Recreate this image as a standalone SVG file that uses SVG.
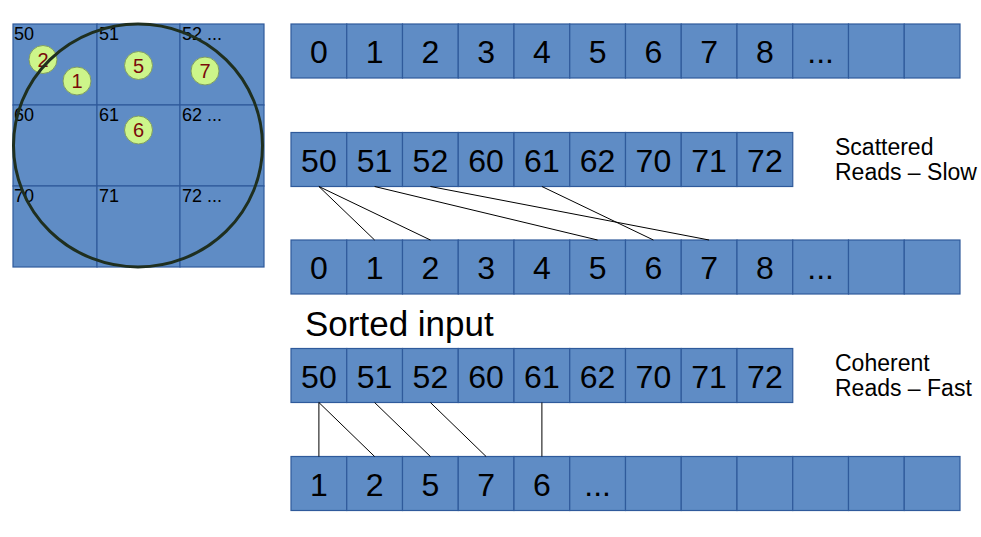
<svg xmlns="http://www.w3.org/2000/svg" width="981" height="537" viewBox="0 0 981 537">
<style>
.cell{fill:#5f8cc5;stroke:#2f5a9b;stroke-width:1.2}
.num{font-family:"Liberation Sans",Arial,sans-serif;font-size:32px;fill:#000;text-anchor:middle}
.glbl{font-family:"Liberation Sans",Arial,sans-serif;font-size:18px;fill:#000}
.dot{fill:#cdf58a;stroke:#7f9c62;stroke-width:1}
.dnum{font-family:"Liberation Sans",Arial,sans-serif;font-size:20px;fill:#7a0a0a;text-anchor:middle}
.lbl{font-family:"Liberation Sans",Arial,sans-serif;font-size:23px;fill:#000}
.conn{stroke:#000;stroke-width:1;fill:none}
</style>
<rect width="981" height="537" fill="#fff"/>

<g id="grid">
<rect class="cell" x="13" y="24" width="84" height="81"/>
<rect class="cell" x="97" y="24" width="83" height="81"/>
<rect class="cell" x="180" y="24" width="84" height="81"/>
<rect class="cell" x="13" y="105" width="84" height="81"/>
<rect class="cell" x="97" y="105" width="83" height="81"/>
<rect class="cell" x="180" y="105" width="84" height="81"/>
<rect class="cell" x="13" y="186" width="84" height="81"/>
<rect class="cell" x="97" y="186" width="83" height="81"/>
<rect class="cell" x="180" y="186" width="84" height="81"/>
<text class="glbl" x="14" y="40">50</text>
<text class="glbl" x="99" y="40">51</text>
<text class="glbl" x="182" y="40">52 ...</text>
<text class="glbl" x="14" y="121">60</text>
<text class="glbl" x="99" y="121">61</text>
<text class="glbl" x="182" y="121">62 ...</text>
<text class="glbl" x="14" y="202">70</text>
<text class="glbl" x="99" y="202">71</text>
<text class="glbl" x="182" y="202">72 ...</text>
</g>

<g id="samples">
<circle class="dot" cx="43" cy="59.5" r="14"/>
<text class="dnum" x="43" y="66.5">2</text>
<circle class="dot" cx="77" cy="81" r="14"/>
<text class="dnum" x="77" y="88">1</text>
<circle class="dot" cx="138.5" cy="65.5" r="14"/>
<text class="dnum" x="138.5" y="72.5">5</text>
<circle class="dot" cx="205" cy="71" r="14"/>
<text class="dnum" x="205" y="78">7</text>
<circle class="dot" cx="138.5" cy="130" r="14"/>
<text class="dnum" x="138.5" y="137">6</text>
</g>

<g id="footprint">
<ellipse cx="138" cy="145.5" rx="124.5" ry="121.5" fill="none" stroke="#1f2f1f" stroke-width="3"/>
</g>

<g id="row-memory-top">
<rect class="cell" x="291" y="24" width="55.75" height="54"/>
<rect class="cell" x="346.75" y="24" width="55.75" height="54"/>
<rect class="cell" x="402.5" y="24" width="55.75" height="54"/>
<rect class="cell" x="458.25" y="24" width="55.75" height="54"/>
<rect class="cell" x="514" y="24" width="55.75" height="54"/>
<rect class="cell" x="569.75" y="24" width="55.75" height="54"/>
<rect class="cell" x="625.5" y="24" width="55.75" height="54"/>
<rect class="cell" x="681.25" y="24" width="55.75" height="54"/>
<rect class="cell" x="737" y="24" width="55.75" height="54"/>
<rect class="cell" x="792.75" y="24" width="55.75" height="54"/>
<rect class="cell" x="848.5" y="24" width="55.75" height="54"/>
<rect class="cell" x="904.25" y="24" width="55.75" height="54"/>
<text class="num" x="318.9" y="63">0</text>
<text class="num" x="374.6" y="63">1</text>
<text class="num" x="430.4" y="63">2</text>
<text class="num" x="486.1" y="63">3</text>
<text class="num" x="541.9" y="63">4</text>
<text class="num" x="597.6" y="63">5</text>
<text class="num" x="653.4" y="63">6</text>
<text class="num" x="709.1" y="63">7</text>
<text class="num" x="764.9" y="63">8</text>
<text class="num" x="820.6" y="63">...</text>
</g>

<g id="row-scattered">
<rect class="cell" x="291" y="132.5" width="55.75" height="54"/>
<rect class="cell" x="346.75" y="132.5" width="55.75" height="54"/>
<rect class="cell" x="402.5" y="132.5" width="55.75" height="54"/>
<rect class="cell" x="458.25" y="132.5" width="55.75" height="54"/>
<rect class="cell" x="514" y="132.5" width="55.75" height="54"/>
<rect class="cell" x="569.75" y="132.5" width="55.75" height="54"/>
<rect class="cell" x="625.5" y="132.5" width="55.75" height="54"/>
<rect class="cell" x="681.25" y="132.5" width="55.75" height="54"/>
<rect class="cell" x="737" y="132.5" width="55.75" height="54"/>
<text class="num" x="318.9" y="171.5">50</text>
<text class="num" x="374.6" y="171.5">51</text>
<text class="num" x="430.4" y="171.5">52</text>
<text class="num" x="486.1" y="171.5">60</text>
<text class="num" x="541.9" y="171.5">61</text>
<text class="num" x="597.6" y="171.5">62</text>
<text class="num" x="653.4" y="171.5">70</text>
<text class="num" x="709.1" y="171.5">71</text>
<text class="num" x="764.9" y="171.5">72</text>
</g>

<g id="label-scattered">
<text class="lbl" x="835" y="155">Scattered</text>
<text class="lbl" x="835" y="180">Reads – Slow</text>
</g>

<g id="row-memory-mid">
<rect class="cell" x="291" y="240" width="55.75" height="54"/>
<rect class="cell" x="346.75" y="240" width="55.75" height="54"/>
<rect class="cell" x="402.5" y="240" width="55.75" height="54"/>
<rect class="cell" x="458.25" y="240" width="55.75" height="54"/>
<rect class="cell" x="514" y="240" width="55.75" height="54"/>
<rect class="cell" x="569.75" y="240" width="55.75" height="54"/>
<rect class="cell" x="625.5" y="240" width="55.75" height="54"/>
<rect class="cell" x="681.25" y="240" width="55.75" height="54"/>
<rect class="cell" x="737" y="240" width="55.75" height="54"/>
<rect class="cell" x="792.75" y="240" width="55.75" height="54"/>
<rect class="cell" x="848.5" y="240" width="55.75" height="54"/>
<rect class="cell" x="904.25" y="240" width="55.75" height="54"/>
<text class="num" x="318.9" y="279">0</text>
<text class="num" x="374.6" y="279">1</text>
<text class="num" x="430.4" y="279">2</text>
<text class="num" x="486.1" y="279">3</text>
<text class="num" x="541.9" y="279">4</text>
<text class="num" x="597.6" y="279">5</text>
<text class="num" x="653.4" y="279">6</text>
<text class="num" x="709.1" y="279">7</text>
<text class="num" x="764.9" y="279">8</text>
<text class="num" x="820.6" y="279">...</text>
</g>

<g id="label-sorted">
<text x="305" y="336" font-family="Liberation Sans, Arial, sans-serif" font-size="35" fill="#000">Sorted input</text>
</g>

<g id="row-sorted">
<rect class="cell" x="291" y="348.5" width="55.75" height="54"/>
<rect class="cell" x="346.75" y="348.5" width="55.75" height="54"/>
<rect class="cell" x="402.5" y="348.5" width="55.75" height="54"/>
<rect class="cell" x="458.25" y="348.5" width="55.75" height="54"/>
<rect class="cell" x="514" y="348.5" width="55.75" height="54"/>
<rect class="cell" x="569.75" y="348.5" width="55.75" height="54"/>
<rect class="cell" x="625.5" y="348.5" width="55.75" height="54"/>
<rect class="cell" x="681.25" y="348.5" width="55.75" height="54"/>
<rect class="cell" x="737" y="348.5" width="55.75" height="54"/>
<text class="num" x="318.9" y="387.5">50</text>
<text class="num" x="374.6" y="387.5">51</text>
<text class="num" x="430.4" y="387.5">52</text>
<text class="num" x="486.1" y="387.5">60</text>
<text class="num" x="541.9" y="387.5">61</text>
<text class="num" x="597.6" y="387.5">62</text>
<text class="num" x="653.4" y="387.5">70</text>
<text class="num" x="709.1" y="387.5">71</text>
<text class="num" x="764.9" y="387.5">72</text>
</g>

<g id="label-coherent">
<text class="lbl" x="835" y="371">Coherent</text>
<text class="lbl" x="835" y="396">Reads – Fast</text>
</g>

<g id="row-memory-bottom">
<rect class="cell" x="291" y="456.5" width="55.75" height="54"/>
<rect class="cell" x="346.75" y="456.5" width="55.75" height="54"/>
<rect class="cell" x="402.5" y="456.5" width="55.75" height="54"/>
<rect class="cell" x="458.25" y="456.5" width="55.75" height="54"/>
<rect class="cell" x="514" y="456.5" width="55.75" height="54"/>
<rect class="cell" x="569.75" y="456.5" width="55.75" height="54"/>
<rect class="cell" x="625.5" y="456.5" width="55.75" height="54"/>
<rect class="cell" x="681.25" y="456.5" width="55.75" height="54"/>
<rect class="cell" x="737" y="456.5" width="55.75" height="54"/>
<rect class="cell" x="792.75" y="456.5" width="55.75" height="54"/>
<rect class="cell" x="848.5" y="456.5" width="55.75" height="54"/>
<rect class="cell" x="904.25" y="456.5" width="55.75" height="54"/>
<text class="num" x="318.9" y="495.5">1</text>
<text class="num" x="374.6" y="495.5">2</text>
<text class="num" x="430.4" y="495.5">5</text>
<text class="num" x="486.1" y="495.5">7</text>
<text class="num" x="541.9" y="495.5">6</text>
<text class="num" x="597.6" y="495.5">...</text>
</g>

<g id="connectors">
<line class="conn" x1="318.9" y1="186.5" x2="374.6" y2="240"/>
<line class="conn" x1="318.9" y1="186.5" x2="430.4" y2="240"/>
<line class="conn" x1="374.6" y1="186.5" x2="597.6" y2="240"/>
<line class="conn" x1="430.4" y1="186.5" x2="709.1" y2="240"/>
<line class="conn" x1="541.9" y1="186.5" x2="653.4" y2="240"/>
<line class="conn" x1="318.9" y1="402.5" x2="318.9" y2="456.5"/>
<line class="conn" x1="318.9" y1="402.5" x2="374.6" y2="456.5"/>
<line class="conn" x1="374.6" y1="402.5" x2="430.4" y2="456.5"/>
<line class="conn" x1="430.4" y1="402.5" x2="486.1" y2="456.5"/>
<line class="conn" x1="541.9" y1="402.5" x2="541.9" y2="456.5"/>
</g>
</svg>
